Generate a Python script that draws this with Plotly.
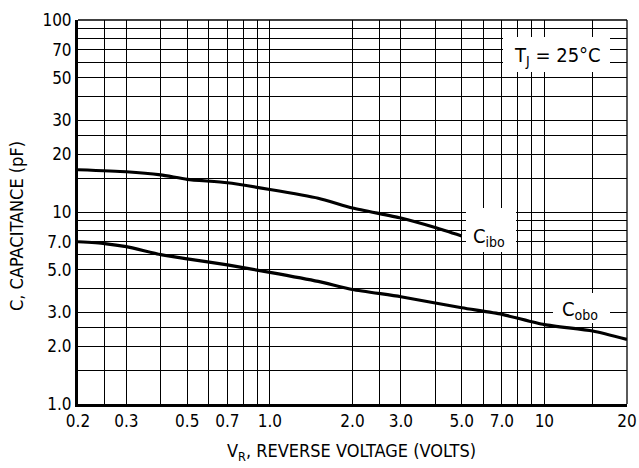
import plotly.graph_objects as go
import math

# ---- data ----
vr_ibo = [0.2, 0.3, 0.4, 0.5, 0.7, 1.0, 1.5, 2.0, 3.0, 4.0, 5.0]
c_ibo = [16.6, 16.2, 15.6, 14.8, 14.2, 13.1, 11.8, 10.5, 9.3, 8.3, 7.5]

vr_obo = [0.2, 0.25, 0.3, 0.4, 0.5, 0.7, 1.0, 1.5, 2.0, 3.0, 5.0, 7.0, 10, 15, 20]
c_obo = [7.0, 6.85, 6.6, 6.0, 5.7, 5.3, 4.85, 4.35, 3.95, 3.62, 3.17, 2.93, 2.59, 2.4, 2.17]

x_grid = [0.2, 0.25, 0.3, 0.4, 0.5, 0.6, 0.7, 0.8, 0.9, 1, 2, 2.5, 3, 4, 5, 6, 7, 8, 9, 10, 15, 20]
x_labels = {0.2: "0.2", 0.3: "0.3", 0.5: "0.5", 0.7: "0.7", 1: "1.0", 2: "2.0",
            3: "3.0", 5: "5.0", 7: "7.0", 10: "10", 20: "20"}
y_grid = [1, 1.5, 2, 2.5, 3, 4, 5, 6, 7, 8, 9, 10, 15, 20, 25, 30, 40, 50, 60, 70, 80, 90, 100]
y_labels = {1: "1.0", 2: "2.0", 3: "3.0", 5: "5.0", 7: "7.0", 10: "10", 20: "20",
            30: "30", 50: "50", 70: "70", 100: "100"}

FONT = "DejaVu Sans Condensed, Liberation Sans, Arial, sans-serif"

L, R, T, B = 78, 12, 20, 64
W, H = 639, 468
PW, PH = W - L - R, H - T - B


def px(x):
    return (x - L) / PW


def py(y):
    return (H - B - y) / PH


fig = go.Figure()
fig.add_trace(go.Scatter(x=vr_ibo, y=c_ibo, mode="lines",
                         line=dict(color="black", width=3.2, shape="spline", smoothing=0.6),
                         hoverinfo="skip"))
fig.add_trace(go.Scatter(x=vr_obo, y=c_obo, mode="lines",
                         line=dict(color="black", width=3.2, shape="spline", smoothing=0.6),
                         hoverinfo="skip"))

# white label boxes
boxes = [(503, 37, 610, 72), (466, 208, 516, 252), (553, 293, 610, 323)]
for x0, y0, x1, y1 in boxes:
    fig.add_shape(type="rect", xref="paper", yref="paper",
                  x0=px(x0), x1=px(x1), y0=py(y1), y1=py(y0),
                  fillcolor="white", line=dict(width=0), layer="above")

# top and right border
fig.add_shape(type="line", xref="paper", yref="paper", x0=0, x1=1, y0=1, y1=1,
              line=dict(color="black", width=1.3), layer="above")
fig.add_shape(type="line", xref="paper", yref="paper", x0=1, x1=1, y0=0, y1=1,
              line=dict(color="black", width=1.3), layer="above")

annos = [
    ("T<sub>J</sub> = 25°C", 557, 56, 20),
    ("C<sub>ibo</sub>", 489, 237, 20),
    ("C<sub>obo</sub>", 580, 310, 20),
]
for txt, x, y, s in annos:
    fig.add_annotation(text=txt, xref="paper", yref="paper", x=px(x), y=py(y),
                       xanchor="center", yanchor="middle", showarrow=False,
                       font=dict(family=FONT, size=s, color="black"))

fig.add_annotation(text="V<sub>R</sub>, REVERSE VOLTAGE (VOLTS)", xref="paper", yref="paper",
                   x=px(351), y=py(452), xanchor="center", yanchor="middle", showarrow=False,
                   font=dict(family=FONT, size=18, color="black"))
fig.add_annotation(text="C, CAPACITANCE (pF)", xref="paper", yref="paper",
                   x=px(17), y=py(226), xanchor="center", yanchor="middle", showarrow=False,
                   textangle=-90, font=dict(family=FONT, size=18, color="black"))

fig.update_xaxes(type="log", range=[math.log10(0.2), math.log10(20)],
                 tickvals=x_grid, ticktext=[x_labels.get(v, "") for v in x_grid],
                 showgrid=True, gridcolor="black", gridwidth=1.2,
                 showline=True, linecolor="black", linewidth=3,
                 ticks="", zeroline=False, tickangle=0, automargin=False,
                 tickfont=dict(family=FONT, size=17, color="black"))
fig.update_yaxes(type="log", range=[0, 2],
                 tickvals=y_grid, ticktext=[y_labels.get(v, "") for v in y_grid],
                 showgrid=True, gridcolor="black", gridwidth=1.2,
                 showline=True, linecolor="black", linewidth=3,
                 ticks="", zeroline=False, automargin=False,
                 tickfont=dict(family=FONT, size=17, color="black"))

fig.update_layout(width=W, height=H, margin=dict(l=L, r=R, t=T, b=B, autoexpand=False),
                  plot_bgcolor="white", paper_bgcolor="white", showlegend=False,
                  font=dict(family=FONT, color="black"))

fig.write_html("out.html", config={"displayModeBar": False},
               post_script="document.body.style.margin='0px';")
